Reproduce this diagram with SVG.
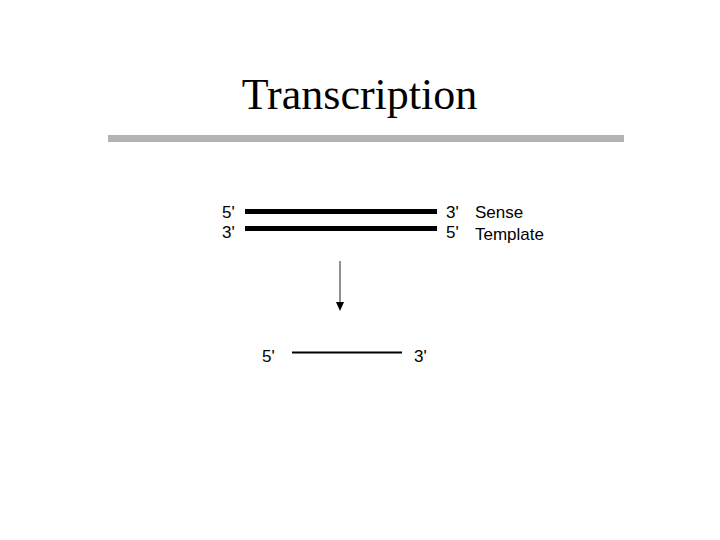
<svg xmlns="http://www.w3.org/2000/svg" width="720" height="540" viewBox="0 0 720 540">
<style>
.lbl{font-family:"Liberation Sans",Arial,sans-serif;font-size:17px;fill:#000}
.strand{stroke:#000;stroke-width:5}
</style>
<rect width="720" height="540" fill="#fff"/>
<text x="359.5" y="109" text-anchor="middle" font-family="'Liberation Serif','Times New Roman',serif" font-size="44" fill="#000">Transcription</text>
<rect x="108" y="135" width="516" height="7" fill="#b3b3b3"/>
<g id="sense">
<line class="strand" x1="245" y1="211.5" x2="437" y2="211.5"/>
<text class="lbl" x="222" y="218">5'</text>
<text class="lbl" x="446" y="218">3'</text>
<text class="lbl" x="475" y="218">Sense</text>
</g>
<g id="template">
<line class="strand" x1="245" y1="228.5" x2="437" y2="228.5"/>
<text class="lbl" x="222" y="238">3'</text>
<text class="lbl" x="446" y="238">5'</text>
<text class="lbl" x="475" y="240">Template</text>
</g>
<g id="rna">
<line x1="292" y1="352.5" x2="402" y2="352.5" stroke="#000" stroke-width="2"/>
<text class="lbl" x="262" y="362">5'</text>
<text class="lbl" x="414" y="362">3'</text>
</g>
<g id="connectors">
<line x1="340" y1="261" x2="340" y2="303" stroke="#555" stroke-width="1.3"/>
<path d="M336,302 L344,302 L340,311 Z" fill="#000"/>
</g>
</svg>
